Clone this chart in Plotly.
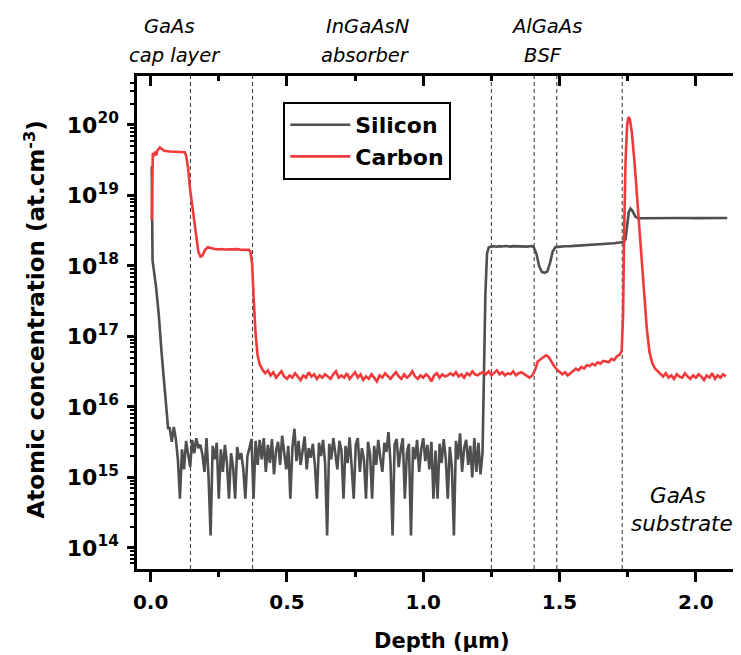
import plotly.graph_objects as go

# ---------------- data ----------------
# Silicon: surface transient
si_depth_head = [0.004, 0.007, 0.020, 0.030, 0.040, 0.050, 0.058, 0.064]
si_conc_head = [2.6e19, 1.2e18, 5.0e17, 2.0e17, 6.0e16, 2.0e16, 8.0e15, 5.0e15]

# Silicon: noisy background in cap + absorber (units of 1e15 at/cm3), regular depth sampling
si_bg_start = 0.07
si_bg_step = 0.0075
si_bg_e15 = [
    5.0, 3.2, 5.2, 3.5, 1.8, 0.5, 2.5, 1.3, 3.3, 2.0,
    1.4, 3.4, 2.2, 3.6, 2.6, 2.9, 2.1, 1.2, 3.6, 1.0,
    0.15, 2.8, 1.8, 3.1, 0.5, 2.5, 1.2, 2.9, 1.6, 0.5,
    2.2, 1.4, 0.5, 2.7, 1.8, 2.2, 1.3, 0.5, 2.0, 2.6,
    3.5, 0.5, 3.3, 1.5, 3.4, 1.8, 3.6, 1.2, 2.9, 1.6,
    3.5, 1.1, 2.4, 3.2, 1.5, 3.9, 2.2, 1.3, 2.8, 0.5,
    2.6, 4.9, 1.7, 3.3, 1.5, 2.3, 3.8, 1.3, 2.6, 1.9,
    3.0, 1.5, 0.5, 3.1, 2.0, 3.4, 1.6, 0.15, 3.0, 1.8,
    3.6, 2.2, 1.3, 3.3, 2.4, 0.5, 2.8, 1.6, 3.7, 1.4,
    0.5, 2.9, 3.6, 1.2, 2.6, 1.8, 0.5, 3.2, 2.1, 0.5,
    2.8, 1.5, 3.4, 1.9, 1.2, 3.1, 2.3, 4.4, 1.6, 0.15,
    2.9, 3.5, 1.4, 2.5, 3.6, 0.5, 2.2, 3.0, 0.15, 2.7,
    1.8, 3.4, 1.2, 2.5, 3.6, 1.7, 2.9, 1.3, 3.2, 0.5,
    2.4, 0.5, 3.0, 1.6, 3.5, 1.9, 0.5, 2.7, 1.4, 0.15,
    3.3, 1.8, 4.2, 1.2, 2.6, 3.4, 1.5, 2.8, 1.0, 3.6,
    1.2, 3.1, 1.1, 2.2,
]

# Silicon: BSF, AlGaAs and substrate
si_depth_tail = [1.222, 1.228, 1.234, 1.240,
                 1.25, 1.26, 1.27, 1.28, 1.29, 1.30, 1.31, 1.32, 1.33, 1.34,
                 1.35, 1.36, 1.37, 1.38, 1.39, 1.40,
                 1.405, 1.415, 1.425, 1.435, 1.445, 1.455, 1.465, 1.475, 1.485,
                 1.50, 1.52, 1.54, 1.56, 1.58, 1.60, 1.62, 1.64, 1.66, 1.68,
                 1.70, 1.72, 1.735, 1.742, 1.748, 1.754, 1.760, 1.768, 1.778, 1.79,
                 1.80, 1.85, 1.90, 1.95, 2.00, 2.05, 2.10, 2.115]
si_conc_tail = [2.0e16, 4.0e17, 1.5e18, 1.82e18,
                1.88e18, 1.90e18, 1.87e18, 1.91e18, 1.89e18, 1.92e18, 1.90e18, 1.88e18, 1.91e18, 1.90e18,
                1.89e18, 1.92e18, 1.90e18, 1.88e18, 1.90e18, 1.91e18,
                1.85e18, 1.5e18, 1.0e18, 8.2e17, 8.0e17, 8.3e17, 1.1e18, 1.6e18, 1.85e18,
                1.88e18, 1.90e18, 1.91e18, 1.93e18, 1.94e18, 1.96e18, 1.98e18, 2.0e18, 2.03e18, 2.06e18,
                2.1e18, 2.15e18, 2.2e18, 2.4e18, 3.6e18, 5.8e18, 6.5e18, 6.0e18, 5.0e18, 4.7e18,
                4.75e18, 4.8e18, 4.78e18, 4.8e18, 4.77e18, 4.8e18, 4.78e18, 4.8e18]

# Carbon: cap layer and its interface
c_depth_head = [0.004, 0.008, 0.012, 0.016, 0.020, 0.026, 0.034, 0.042, 0.050,
                0.070, 0.090, 0.110, 0.125, 0.130, 0.137, 0.145, 0.155, 0.165,
                0.175, 0.183, 0.190, 0.200, 0.210, 0.220,
                0.23, 0.24, 0.25, 0.26, 0.27, 0.28, 0.29, 0.30, 0.31, 0.32,
                0.33, 0.34, 0.35, 0.36, 0.366, 0.372, 0.378, 0.385, 0.392, 0.400]
c_conc_head = [4.5e18, 4.0e19, 3.6e19, 4.2e19, 3.7e19, 4.4e19, 4.8e19, 4.5e19, 4.3e19,
               4.2e19, 4.2e19, 4.1e19, 4.1e19, 3.7e19, 2.5e19, 1.2e19, 6.0e18, 3.0e18,
               1.6e18, 1.35e18, 1.4e18, 1.7e18, 1.85e18, 1.8e18,
               1.75e18, 1.73e18, 1.72e18, 1.74e18, 1.71e18, 1.72e18, 1.70e18, 1.72e18, 1.71e18, 1.73e18,
               1.70e18, 1.71e18, 1.70e18, 1.69e18, 1.6e18, 1.1e18, 3.5e17, 1.1e17, 5.5e16, 4.0e16]

# Carbon: noisy background in absorber (units of 1e16), regular depth sampling
c_bg_start = 0.41
c_bg_step = 0.01
c_bg_e16 = [
    3.4, 3.0, 3.3, 2.8, 3.1, 2.6, 2.9, 3.2, 2.7, 2.5,
    2.8, 2.6, 3.0, 2.7, 2.4, 2.8, 2.6, 3.1, 2.7, 2.9,
    2.5, 2.8, 2.6, 2.9, 2.7, 2.5, 2.9, 3.2, 2.6, 2.8,
    2.6, 3.0, 2.5, 2.8, 3.1, 2.6, 2.9, 2.4, 2.7, 2.5,
    2.9, 2.6, 2.3, 2.8, 2.6, 3.0, 2.7, 2.5, 2.8, 3.1,
    2.7, 2.5, 2.9, 2.6, 2.8, 3.2, 2.7, 2.5, 2.8, 2.6,
    2.9, 2.7, 2.3, 2.8, 3.0, 2.6, 2.9, 2.7, 2.8, 3.0,
    2.8, 3.1, 2.7, 2.9, 2.6, 3.0, 2.8, 3.2, 2.9, 2.8,
    3.0, 3.1, 2.9, 3.2, 2.8, 3.0, 3.3, 2.9, 3.1, 2.8,
    3.0, 2.9, 3.2, 2.8, 3.0, 3.1, 2.9, 2.7, 2.6, 2.8,
    # AlGaAs BSF bump and rise toward the substrate interface
    3.3, 4.4, 4.7, 5.0, 5.4, 5.1, 4.3, 3.8, 3.4, 3.1,
    2.9, 3.1, 2.8, 3.0, 3.2, 3.5, 3.3, 3.7, 3.5, 3.9,
    3.8, 4.1, 3.9, 4.3, 4.1, 4.5, 4.4, 4.3, 4.8, 4.6,
    5.2, 5.5,
]

# Carbon: substrate interface spike and substrate
c_depth_tail = [1.728, 1.733, 1.737, 1.742, 1.748, 1.753, 1.758, 1.765, 1.775,
                1.790, 1.800, 1.810, 1.820, 1.830, 1.840, 1.850,
                1.86, 1.87, 1.88, 1.89, 1.90, 1.91, 1.92, 1.93, 1.94, 1.95,
                1.96, 1.97, 1.98, 1.99, 2.00, 2.01, 2.02, 2.03, 2.04, 2.05,
                2.06, 2.07, 2.08, 2.09, 2.10, 2.11]
c_conc_tail = [6.2e16, 2.0e17, 3.0e18, 3.0e19, 1.0e20, 1.3e20, 1.2e20, 8.0e19, 3.0e19,
               5.0e18, 1.6e18, 4.0e17, 1.3e17, 6.0e16, 4.2e16, 3.5e16,
               3.2e16, 2.9e16, 2.7e16, 3.0e16, 2.6e16, 2.8e16, 2.5e16, 2.9e16, 2.7e16, 2.6e16,
               3.0e16, 2.7e16, 2.5e16, 2.8e16, 2.6e16, 2.9e16, 2.7e16, 2.4e16, 2.8e16, 2.6e16,
               3.0e16, 2.5e16, 2.8e16, 2.6e16, 2.9e16, 2.7e16]

layer_boundaries = [0.146, 0.374, 1.25, 1.407, 1.49, 1.73, 2.18]

x_tick_vals = [0.0, 0.5, 1.0, 1.5, 2.0]
x_tick_text = ["0.0", "0.5", "1.0", "1.5", "2.0"]
y_exponents = [14, 15, 16, 17, 18, 19, 20]

# ---------------- assemble series ----------------
si_depth = (si_depth_head
            + [round(si_bg_start + i * si_bg_step, 5) for i in range(len(si_bg_e15))]
            + si_depth_tail)
si_conc = si_conc_head + [v * 1e15 for v in si_bg_e15] + si_conc_tail

c_depth = (c_depth_head
           + [round(c_bg_start + i * c_bg_step, 5) for i in range(len(c_bg_e16))]
           + c_depth_tail)
c_conc = c_conc_head + [v * 1e16 for v in c_bg_e16] + c_conc_tail

# ---------------- figure ----------------
W, H = 741, 655
L, R, T, B = 129, 741, 68, 561
X_RANGE = [-0.05, 2.184]
Y_RANGE = [13.70, 20.695]


def px(xp):
    return (xp - L) / (R - L)


def py(yp):
    return (B - yp) / (B - T)


FONT = "DejaVu Sans"
SI_COLOR = "#4f4f4f"
C_COLOR = "#f0393b"

fig = go.Figure()
fig.add_trace(go.Scatter(x=si_depth, y=si_conc, mode="lines", name="Silicon",
                         line=dict(color=SI_COLOR, width=2.6)))
fig.add_trace(go.Scatter(x=c_depth, y=c_conc, mode="lines", name="Carbon",
                         line=dict(color=C_COLOR, width=2.6)))
# dummy trace that creates the top/right tick axes
fig.add_trace(go.Scatter(x=[None], y=[None], xaxis="x2", yaxis="y2",
                         showlegend=False, hoverinfo="skip"))

for xb in layer_boundaries:
    fig.add_vline(x=xb, line=dict(color="#333333", width=1, dash="4px,3px"), layer="below")

major_y = [10.0 ** e for e in y_exponents]
minor_y = [float(m) * 10.0 ** e for e in range(13, 21) for m in range(2, 10)]

fig.update_layout(
    width=W, height=H,
    margin=dict(l=L, r=W - R, t=T, b=H - B, pad=0),
    paper_bgcolor="white", plot_bgcolor="white",
    font=dict(family=FONT, color="black"),
    showlegend=True,
    legend=dict(x=px(276), y=py(94), xanchor="left", yanchor="top",
                bordercolor="black", borderwidth=2, bgcolor="white",
                font=dict(family=FONT, size=22, color="black", weight=700),
                itemwidth=60, tracegroupgap=0,
                entrywidth=160, entrywidthmode="pixels"),
    xaxis=dict(range=X_RANGE, showline=True, linewidth=2.5, linecolor="black", mirror=True,
               ticks="outside", ticklen=10, tickwidth=2.5, tickcolor="black",
               tickmode="array", tickvals=x_tick_vals, ticktext=x_tick_text,
               tickfont=dict(family=FONT, size=20, color="black", weight=700), ticklabelstandoff=3,
               showgrid=False, zeroline=False,
               minor=dict(ticks="outside", ticklen=5, tickwidth=2.5, tickcolor="black",
                          dtick=0.25, tick0=0, showgrid=False)),
    yaxis=dict(type="log", range=Y_RANGE, showline=True, linewidth=2.5, linecolor="black", mirror=True,
               ticks="outside", ticklen=7, tickwidth=2.5, tickcolor="black",
               tickmode="array", tickvals=major_y,
               ticktext=[f"10<sup>{e}</sup>" for e in y_exponents],
               tickfont=dict(family=FONT, size=22, color="black", weight=700), ticklabelstandoff=4,
               showgrid=False, zeroline=False,
               minor=dict(ticks="outside", ticklen=4, tickwidth=2, tickcolor="black",
                          tickmode="array", tickvals=minor_y, showgrid=False)),
    xaxis2=dict(range=X_RANGE, overlaying="x", side="top", anchor="y2",
                showline=False, ticks="inside", ticklen=10, tickwidth=2.5, tickcolor="black",
                tickmode="array", tickvals=x_tick_vals, showticklabels=False,
                showgrid=False, zeroline=False,
                minor=dict(ticks="inside", ticklen=5, tickwidth=2.5, tickcolor="black",
                           dtick=0.25, tick0=0, showgrid=False)),
    yaxis2=dict(type="log", range=Y_RANGE, overlaying="y", side="right", anchor="x2",
                showline=False, ticks="inside", ticklen=5, tickwidth=2.5, tickcolor="black",
                tickmode="array", tickvals=major_y, showticklabels=False,
                showgrid=False, zeroline=False),
)

ann_font = dict(family=FONT, size=19.5, color="black", style="italic")
top_labels = [
    ("GaAs", 162, 18), ("cap layer", 167, 48),
    ("InGaAsN", 361, 18), ("absorber", 359, 48),
    ("AlGaAs", 541, 18), ("BSF", 537, 48),
]
for txt, xp, yp in top_labels:
    fig.add_annotation(text=txt, x=px(xp), y=py(yp), xref="paper", yref="paper",
                       xanchor="center", yanchor="middle", showarrow=False, font=ann_font)

sub_font = dict(family=FONT, size=21.5, color="black", style="italic")
for txt, xp, yp in [("GaAs", 673, 487), ("substrate", 677, 515)]:
    fig.add_annotation(text=txt, x=px(xp), y=py(yp), xref="paper", yref="paper",
                       xanchor="center", yanchor="middle", showarrow=False, font=sub_font)

fig.add_annotation(text="Depth (µm)", x=px(436), y=py(633), xref="paper", yref="paper",
                   xanchor="center", yanchor="middle", showarrow=False,
                   font=dict(family=FONT, size=21, color="black", weight=700))
fig.add_annotation(text="Atomic concentration (at.cm<sup>-3</sup>)", x=px(26), y=py(312),
                   xref="paper", yref="paper", xanchor="center", yanchor="middle",
                   textangle=-90, showarrow=False,
                   font=dict(family=FONT, size=23, color="black", weight=700))

fig.write_html("out.html")
